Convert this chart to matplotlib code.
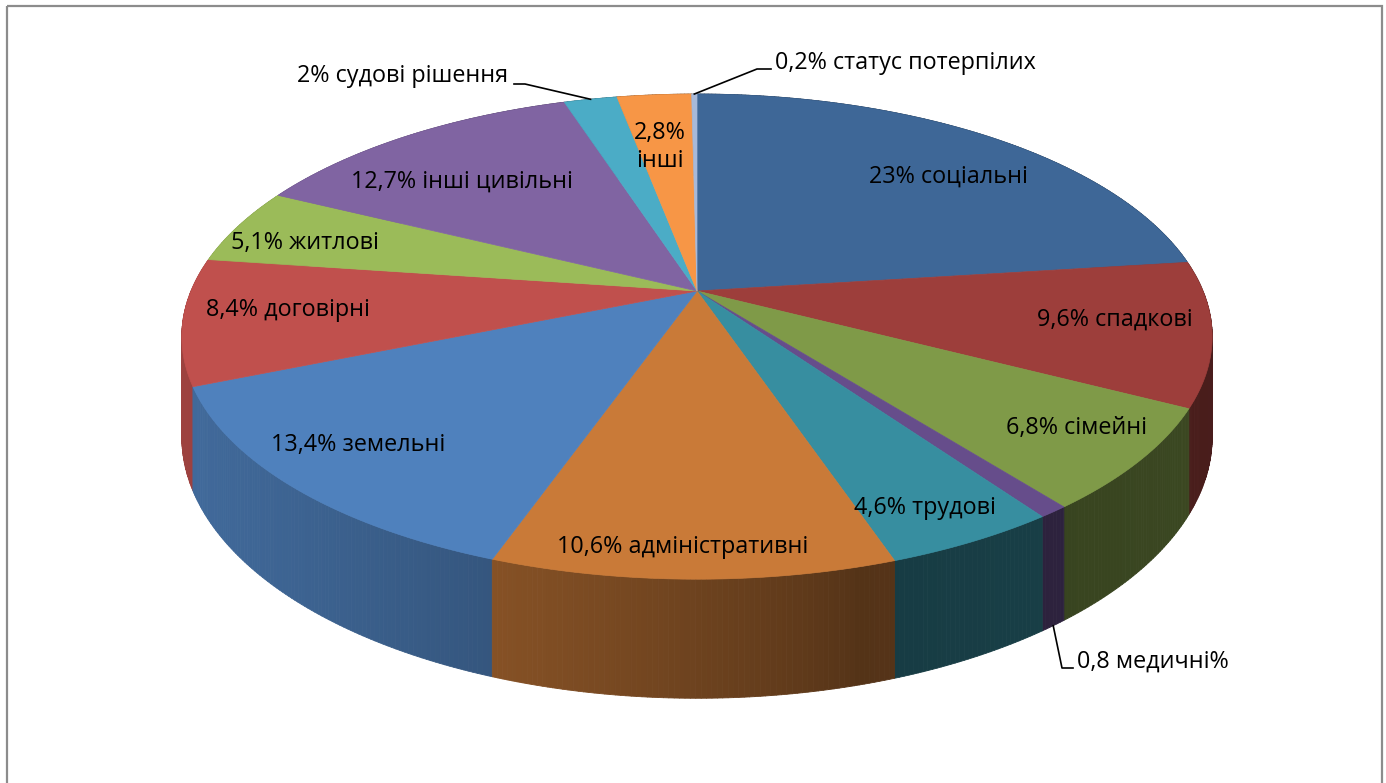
import numpy as np
import matplotlib
matplotlib.use("Agg")
import matplotlib.pyplot as plt
from matplotlib.patches import Polygon, Rectangle
from matplotlib.collections import PolyCollection
from matplotlib.colors import to_rgb

# ---------------- data ----------------
categories = ['соціальні', 'спадкові', 'сімейні', 'медичні', 'трудові',
              'адміністративні', 'земельні', 'договірні', 'житлові',
              'інші цивільні', 'судові рішення', 'інші', 'статус потерпілих']
shares = [23.0, 9.6, 6.8, 0.8, 4.6, 10.6, 13.4, 8.4, 5.1, 12.7, 2.0, 2.8, 0.2]
label_texts = ['23% соціальні', '9,6% спадкові', '6,8% сімейні', '0,8 медичні%',
               '4,6% трудові', '10,6% адміністративні', '13,4% земельні',
               '8,4% договірні', '5,1% житлові', '12,7% інші цивільні',
               '2% судові рішення', '2,8%\nінші', '0,2% статус потерпілих']

# ---------------- styles / layout ----------------
top_colors = ['#3E6797', '#9D3E3B', '#7F9A48', '#664D8B', '#378EA0', '#C97A38',
              '#4F81BD', '#C0504D', '#9BBB59', '#8064A2', '#4BACC6', '#F79646',
              '#A7B9D9']
W, Hpx = 1386, 783
cx, cy = 697.0, 291.0
Rx, Ry = 506.0, 234.0
kpers = 0.188
thick = 96.7
start_angle = 90.0

FONT = ['Open Sans', 'DejaVu Sans']
FS = 16.8

# label centres (pixel layout)
label_pos = [(948, 177), (1115, 320), (1077, 428), None, (925, 508),
             (683, 547), (358, 445), (288, 310), (305, 243), (462, 182),
             None, (660, 147), None]


def proj(theta, z=0.0, r=1.0):
    t = np.radians(theta)
    x = r * np.cos(t)
    y = r * np.sin(t)
    s = 1.0 / (1.0 + kpers * y)
    X = cx + Rx * x * s
    Y = cy - Ry * y * s + thick * z * s
    return X, Y


def shade(theta):
    a = np.radians(theta + 165.0)
    c = max(0.0, np.cos(a))
    f = 0.40 + 0.42 * c ** 0.8
    t = np.radians(theta)
    f += 0.07 * max(0.0, np.cos(t)) * (np.sin(t) < 0)
    return f


fig = plt.figure(figsize=(W / 100, Hpx / 100), dpi=100)
ax = fig.add_axes([0, 0, 1, 1])
ax.set_xlim(0, W)
ax.set_ylim(Hpx, 0)
ax.axis('off')

# border
ax.add_patch(Rectangle((7, 6), 1375, 800, fill=False, edgecolor='#8C8C8C',
                       linewidth=1.6, zorder=0))

total = sum(shares)
bounds = [start_angle]
for v in shares:
    bounds.append(bounds[-1] - v / total * 360.0)

# ----- side walls -----
quads, qcols, depths = [], [], []
for i, v in enumerate(shares):
    a0, a1 = bounds[i], bounds[i + 1]
    n = max(2, int(abs(a0 - a1) / 0.5) + 1)
    ths = np.linspace(a0, a1, n + 1)
    base = np.array(to_rgb(top_colors[i]))
    for j in range(n):
        t0, t1 = ths[j], ths[j + 1]
        tm = 0.5 * (t0 + t1)
        p0 = proj(t0, 0); p1 = proj(t1, 0)
        p2 = proj(t1, 1); p3 = proj(t0, 1)
        quads.append([p0, p1, p2, p3])
        qcols.append(np.clip(base * shade(tm), 0, 1))
        depths.append(np.sin(np.radians(tm)))
order = np.argsort(depths)[::-1]
pc = PolyCollection([quads[o] for o in order],
                    facecolors=[qcols[o] for o in order],
                    edgecolors=[qcols[o] for o in order], linewidths=0.6,
                    zorder=2)
ax.add_collection(pc)

# ----- top faces -----
for i, v in enumerate(shares):
    a0, a1 = bounds[i], bounds[i + 1]
    n = max(3, int(abs(a0 - a1) / 0.5) + 2)
    ths = np.linspace(a0, a1, n)
    pts = [(cx, cy)] + [proj(t, 0) for t in ths]
    ax.add_patch(Polygon(pts, closed=True, facecolor=top_colors[i],
                         edgecolor=top_colors[i], linewidth=0.5, zorder=3))

# ----- labels inside -----
for i, txt in enumerate(label_texts):
    if label_pos[i] is None:
        continue
    ax.text(label_pos[i][0], label_pos[i][1], txt, ha='center', va='center',
            fontsize=FS, family=FONT, color='black', zorder=5,
            linespacing=1.2)

# ----- external labels with leader lines -----
mid = lambda i: 0.5 * (bounds[i] + bounds[i + 1])
# статус потерпілих
sx, sy = proj(mid(12), 0)
ax.plot([sx, 757, 771], [sy, 69, 69], color='black', lw=1.2, zorder=6)
ax.text(775, 63, label_texts[12], ha='left', va='center', fontsize=FS,
        family=FONT, zorder=6)
# судові рішення
sx, sy = proj(mid(10), 0)
ax.plot([sx, 525, 514], [sy, 84, 84], color='black', lw=1.2, zorder=6)
ax.text(508, 76, label_texts[10], ha='right', va='center', fontsize=FS,
        family=FONT, zorder=6)
# медичні
sx, sy = proj(mid(3), 1)
ax.plot([sx, 1062, 1073], [sy, 668, 668], color='black', lw=1.2, zorder=6)
ax.text(1077, 662, label_texts[3], ha='left', va='center', fontsize=FS,
        family=FONT, zorder=6)

fig.savefig('out.png', dpi=100)
